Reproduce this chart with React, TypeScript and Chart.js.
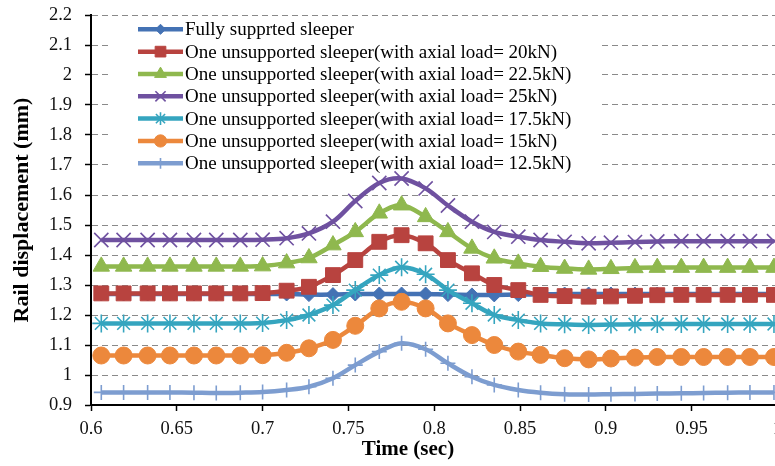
import React, { useEffect, useRef } from 'react';
import { Chart, registerables } from 'chart.js';
import { drawPoint } from 'chart.js/helpers';

Chart.register(...registerables);

// ---- Data ----
const times = [
  0.606, 0.619, 0.633, 0.646, 0.660, 0.673, 0.687, 0.700, 0.714, 0.727,
  0.741, 0.754, 0.768, 0.781, 0.795, 0.808, 0.822, 0.835, 0.849, 0.862,
  0.876, 0.890, 0.903, 0.917, 0.930, 0.944, 0.957, 0.971, 0.984, 0.998,
];

const fullySupported = [
  1.27, 1.27, 1.27, 1.27, 1.27, 1.27, 1.27, 1.27, 1.27, 1.268,
  1.268, 1.27, 1.27, 1.27, 1.27, 1.268, 1.267, 1.267, 1.268, 1.269,
  1.27, 1.27, 1.27, 1.27, 1.27, 1.27, 1.27, 1.27, 1.27, 1.27,
];

const load20kN = [
  1.272, 1.272, 1.272, 1.272, 1.272, 1.272, 1.272, 1.273, 1.281, 1.294,
  1.333, 1.383, 1.444, 1.466, 1.439, 1.383, 1.339, 1.3, 1.283, 1.267,
  1.263, 1.261, 1.262, 1.264, 1.266, 1.267, 1.267, 1.267, 1.267, 1.267,
];

const load22_5kN = [
  1.362, 1.362, 1.362, 1.362, 1.362, 1.362, 1.362, 1.363, 1.373, 1.39,
  1.433, 1.477, 1.539, 1.566, 1.527, 1.477, 1.422, 1.389, 1.372, 1.361,
  1.355, 1.352, 1.354, 1.357, 1.358, 1.358, 1.358, 1.358, 1.358, 1.358,
];

const load25kN = [
  1.45, 1.45, 1.45, 1.45, 1.45, 1.45, 1.45, 1.451, 1.456, 1.472,
  1.511, 1.58, 1.64, 1.655, 1.622, 1.565, 1.511, 1.477, 1.461, 1.45,
  1.444, 1.439, 1.441, 1.443, 1.445, 1.446, 1.446, 1.446, 1.446, 1.446,
];

const load17_5kN = [
  1.172, 1.172, 1.172, 1.172, 1.172, 1.172, 1.172, 1.173, 1.183, 1.2,
  1.233, 1.283, 1.333, 1.359, 1.336, 1.283, 1.239, 1.2, 1.183, 1.172,
  1.169, 1.167, 1.168, 1.169, 1.17, 1.17, 1.17, 1.17, 1.17, 1.17,
];

const load15kN = [
  1.065, 1.065, 1.065, 1.065, 1.065, 1.065, 1.065, 1.066, 1.074, 1.089,
  1.117, 1.164, 1.222, 1.244, 1.222, 1.172, 1.133, 1.1, 1.078, 1.067,
  1.056, 1.052, 1.055, 1.058, 1.06, 1.06, 1.06, 1.06, 1.06, 1.06,
];

const load12_5kN = [
  0.942, 0.942, 0.942, 0.942, 0.941, 0.94, 0.941, 0.943, 0.95, 0.961,
  0.989, 1.033, 1.078, 1.106, 1.086, 1.039, 0.994, 0.967, 0.95, 0.941,
  0.936, 0.935, 0.936, 0.937, 0.938, 0.939, 0.94, 0.941, 0.942, 0.942,
];

const seriesLabels = [
  'Fully supprted sleeper',
  'One unsupported sleeper(with axial load= 20kN)',
  'One unsupported sleeper(with axial load= 22.5kN)',
  'One unsupported sleeper(with axial load= 25kN)',
  'One unsupported sleeper(with axial load= 17.5kN)',
  'One unsupported sleeper(with axial load= 15kN)',
  'One unsupported sleeper(with axial load= 12.5kN)',
];

const seriesValues = [fullySupported, load20kN, load22_5kN, load25kN, load17_5kN, load15kN, load12_5kN];
const seriesColors = ['#4472B4', '#B8433F', '#8FB84E', '#6F51A0', '#35A5BF', '#EC883C', '#7D9DD0'];
const seriesMarkers = ['rectRot', 'rect', 'triangle', 'crossRot', 'star', 'circle', 'cross'];
const markerRadius = [7, 10.5, 9.5, 10, 9, 8.5, 7.5];
const markerStroke = [1, 1, 1, 1.6, 1.6, 1, 1.6];

const FONT = '"Liberation Serif", "Times New Roman", serif';

const fmt = (v: number) => String(parseFloat(Number(v).toFixed(2)));

const legendPlugin = {
  id: 'customLegend',
  beforeDatasetsDraw(chart: any) {
    const ctx = chart.ctx;
    ctx.save();
    ctx.fillStyle = '#ffffff';
    ctx.fillRect(110, 18, 492, 154);
    ctx.restore();
  },
  afterDatasetsDraw(chart: any) {
    const ctx = chart.ctx;
    ctx.save();
    chart.data.datasets.forEach((ds: any, i: number) => {
      const y = 29.3 + 22.33 * i;
      ctx.strokeStyle = ds.borderColor;
      ctx.fillStyle = ds.borderColor;
      ctx.lineWidth = 4.5;
      ctx.setLineDash([]);
      ctx.beginPath();
      ctx.moveTo(138, y);
      ctx.lineTo(183, y);
      ctx.stroke();
      ctx.lineWidth = ds.pointBorderWidth;
      drawPoint(ctx, {
        pointStyle: ds.pointStyle,
        radius: ds.pointRadius * 0.72,
        rotation: 0,
        borderWidth: ds.pointBorderWidth,
      } as any, 160.5, y);
      ctx.fillStyle = '#000';
      ctx.font = `19px ${FONT}`;
      ctx.textAlign = 'left';
      ctx.textBaseline = 'middle';
      ctx.fillText(ds.label, 185, y + 1);
    });
    ctx.restore();
  },
  afterDraw(chart: any) {
    const ctx = chart.ctx;
    ctx.save();
    ctx.fillStyle = '#000';
    ctx.font = `bold 21px ${FONT}`;
    ctx.textAlign = 'center';
    ctx.textBaseline = 'middle';
    ctx.fillText('Time (sec)', 408, 450);
    ctx.restore();
  },
};

export default function App() {
  const canvasRef = useRef<HTMLCanvasElement | null>(null);

  useEffect(() => {
    if (!canvasRef.current) return;
    const datasets = seriesLabels.map((label, i) => ({
      label,
      data: times.map((t, k) => ({ x: t, y: seriesValues[i][k] })),
      borderColor: seriesColors[i],
      backgroundColor: seriesColors[i],
      pointBackgroundColor: seriesColors[i],
      pointBorderColor: seriesColors[i],
      pointStyle: seriesMarkers[i],
      pointRadius: markerRadius[i],
      pointBorderWidth: markerStroke[i],
      borderWidth: 4.5,
      tension: 0.35,
      fill: false,
      order: seriesLabels.length - i,
    }));

    const chart = new Chart(canvasRef.current, {
      type: 'line',
      data: { datasets },
      plugins: [legendPlugin],
      options: {
        animation: false,
        responsive: false,
        devicePixelRatio: 1,
        layout: { padding: { top: 15, right: 5, left: 0, bottom: 0 } },
        plugins: { legend: { display: false }, tooltip: { enabled: false } },
        scales: {
          x: {
            type: 'linear',
            min: 0.6,
            max: 1.0,
            ticks: {
              stepSize: 0.05,
              font: { family: FONT, size: 18.5 },
              color: '#111',
              padding: 7,
              maxRotation: 0,
              autoSkip: false,
              callback: (v: any) => fmt(v),
            },
            grid: { drawOnChartArea: false, drawTicks: true, tickLength: 6, tickColor: '#000', tickWidth: 1.5 },
            border: { color: '#000', width: 2 },
            afterFit: (s: any) => {
              s.height = 61;
              s.paddingLeft = 0;
              s.paddingRight = 0;
            },
          },
          y: {
            min: 0.9,
            max: 2.2,
            ticks: {
              stepSize: 0.1,
              font: { family: FONT, size: 18.5 },
              color: '#111',
              padding: 13,
              callback: (v: any) => fmt(v),
            },
            grid: {
              color: (c: any) => (c.index === 0 ? 'rgba(0,0,0,0)' : '#8a8a8a'),
              lineWidth: 1,
              tickLength: 6,
              tickColor: '#000',
              tickWidth: 1.5,
            },
            border: { color: '#000', width: 2, dash: [6, 4] },
            title: {
              display: true,
              text: 'Rail displacement (mm)',
              font: { family: FONT, size: 22, weight: 'bold' },
              color: '#000',
              padding: { top: 9, bottom: 0 },
            },
            afterFit: (s: any) => {
              s.width = 91;
              s.paddingTop = 0;
              s.paddingBottom = 0;
            },
          },
        },
      } as any,
    });
    return () => chart.destroy();
  }, []);

  return (
    <div style={{ position: 'absolute', left: 0, top: 0, width: 775, height: 466, overflow: 'hidden', background: '#fff' }}>
      <canvas ref={canvasRef} width={789} height={466} style={{ width: 789, height: 466, display: 'block' }} />
    </div>
  );
}
